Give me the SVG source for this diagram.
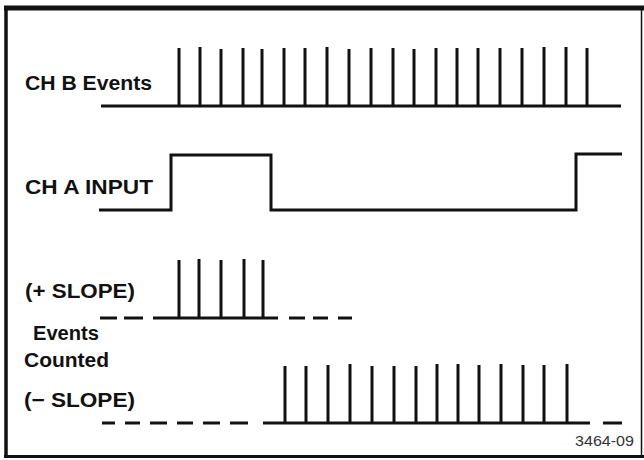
<svg xmlns="http://www.w3.org/2000/svg" width="644" height="460" viewBox="0 0 644 460">
<style>
.lbl{font-family:"Liberation Sans",Arial,sans-serif;font-weight:bold;font-size:20px;fill:#111}
.wave{fill:none;stroke:#111;stroke-width:3;stroke-linejoin:miter;stroke-linecap:butt}
.pulse{stroke:#111;stroke-width:3}
.fig{font-family:"Liberation Sans",Arial,sans-serif;font-size:15px;fill:#333}
</style>
<rect width="644" height="460" fill="#fff"/>
<g id="frame" fill="none" stroke="#111">
<line x1="4" y1="8" x2="644" y2="8" stroke-width="5"/>
<line x1="6" y1="6" x2="6" y2="458" stroke-width="3.5"/>
<line x1="4" y1="456.5" x2="644" y2="456.5" stroke-width="3"/>
<line x1="641.5" y1="8" x2="641.5" y2="456" stroke-width="1.5"/>
</g>
<g id="labels">
<text class="lbl" x="25" y="90" textLength="127" lengthAdjust="spacingAndGlyphs">CH B Events</text>
<text class="lbl" x="25" y="194" textLength="128" lengthAdjust="spacingAndGlyphs">CH A INPUT</text>
<text class="lbl" x="25" y="298" textLength="110" lengthAdjust="spacingAndGlyphs">(+ SLOPE)</text>
<text class="lbl" x="33" y="340" textLength="66" lengthAdjust="spacingAndGlyphs">Events</text>
<text class="lbl" x="24" y="367" textLength="85" lengthAdjust="spacingAndGlyphs">Counted</text>
<text class="lbl" x="24" y="407" textLength="111" lengthAdjust="spacingAndGlyphs">(− SLOPE)</text>
<text class="fig" x="575" y="446" textLength="59" lengthAdjust="spacingAndGlyphs">3464-09</text>
</g>
<g id="connectors">
<g id="chb-events">
<line class="wave" x1="101" y1="106" x2="621" y2="106"/>
<g class="pulse">
<line x1="179" y1="48" x2="179" y2="106"/><line x1="200" y1="47" x2="200" y2="106"/>
<line x1="221" y1="49" x2="221" y2="106"/><line x1="243" y1="48" x2="243" y2="106"/>
<line x1="262" y1="49" x2="262" y2="106"/><line x1="284" y1="48" x2="284" y2="106"/>
<line x1="305" y1="48" x2="305" y2="106"/><line x1="327" y1="47" x2="327" y2="106"/>
<line x1="349" y1="49" x2="349" y2="106"/><line x1="371" y1="48" x2="371" y2="106"/>
<line x1="393" y1="48" x2="393" y2="106"/><line x1="414" y1="49" x2="414" y2="106"/>
<line x1="436" y1="48" x2="436" y2="106"/><line x1="457" y1="48" x2="457" y2="106"/>
<line x1="478" y1="48" x2="478" y2="106"/><line x1="500" y1="48" x2="500" y2="106"/>
<line x1="522" y1="48" x2="522" y2="106"/><line x1="544" y1="47" x2="544" y2="106"/>
<line x1="566" y1="47" x2="566" y2="106"/><line x1="587" y1="48" x2="587" y2="106"/>
</g>
</g>
<g id="cha-input">
<polyline class="wave" points="99,210 171,210 171,155 271,155 271,210 576,210 576,154 622,154"/>
</g>
<g id="plus-slope">
<g class="pulse">
<line x1="100" y1="318" x2="117" y2="318"/><line x1="124" y1="318" x2="143" y2="318"/>
<line x1="153" y1="318" x2="278" y2="318"/>
<line x1="289" y1="318" x2="305" y2="318"/><line x1="313" y1="318" x2="328" y2="318"/>
<line x1="338" y1="318" x2="352" y2="318"/>
<line x1="179" y1="260" x2="179" y2="318"/><line x1="199" y1="259" x2="199" y2="318"/>
<line x1="221" y1="260" x2="221" y2="318"/><line x1="244" y1="259" x2="244" y2="318"/>
<line x1="263" y1="260" x2="263" y2="318"/>
</g>
</g>
<g id="minus-slope">
<g class="pulse">
<line x1="102" y1="423" x2="115" y2="423"/><line x1="125" y1="423" x2="140" y2="423"/>
<line x1="150" y1="423" x2="167" y2="423"/><line x1="177" y1="423" x2="193" y2="423"/>
<line x1="203" y1="423" x2="220" y2="423"/><line x1="230" y1="423" x2="248" y2="423"/>
<line x1="263" y1="423" x2="590" y2="423"/>
<line x1="603" y1="423" x2="622" y2="423"/>
<line x1="285" y1="366" x2="285" y2="423"/><line x1="306" y1="366" x2="306" y2="423"/>
<line x1="328" y1="365" x2="328" y2="423"/><line x1="350" y1="364" x2="350" y2="423"/>
<line x1="372" y1="366" x2="372" y2="423"/><line x1="394" y1="366" x2="394" y2="423"/>
<line x1="416" y1="366" x2="416" y2="423"/><line x1="437" y1="364" x2="437" y2="423"/>
<line x1="458" y1="364" x2="458" y2="423"/><line x1="479" y1="365" x2="479" y2="423"/>
<line x1="501" y1="364" x2="501" y2="423"/><line x1="523" y1="365" x2="523" y2="423"/>
<line x1="544" y1="365" x2="544" y2="423"/><line x1="567" y1="364" x2="567" y2="423"/>
</g>
</g>
</g>
</svg>
